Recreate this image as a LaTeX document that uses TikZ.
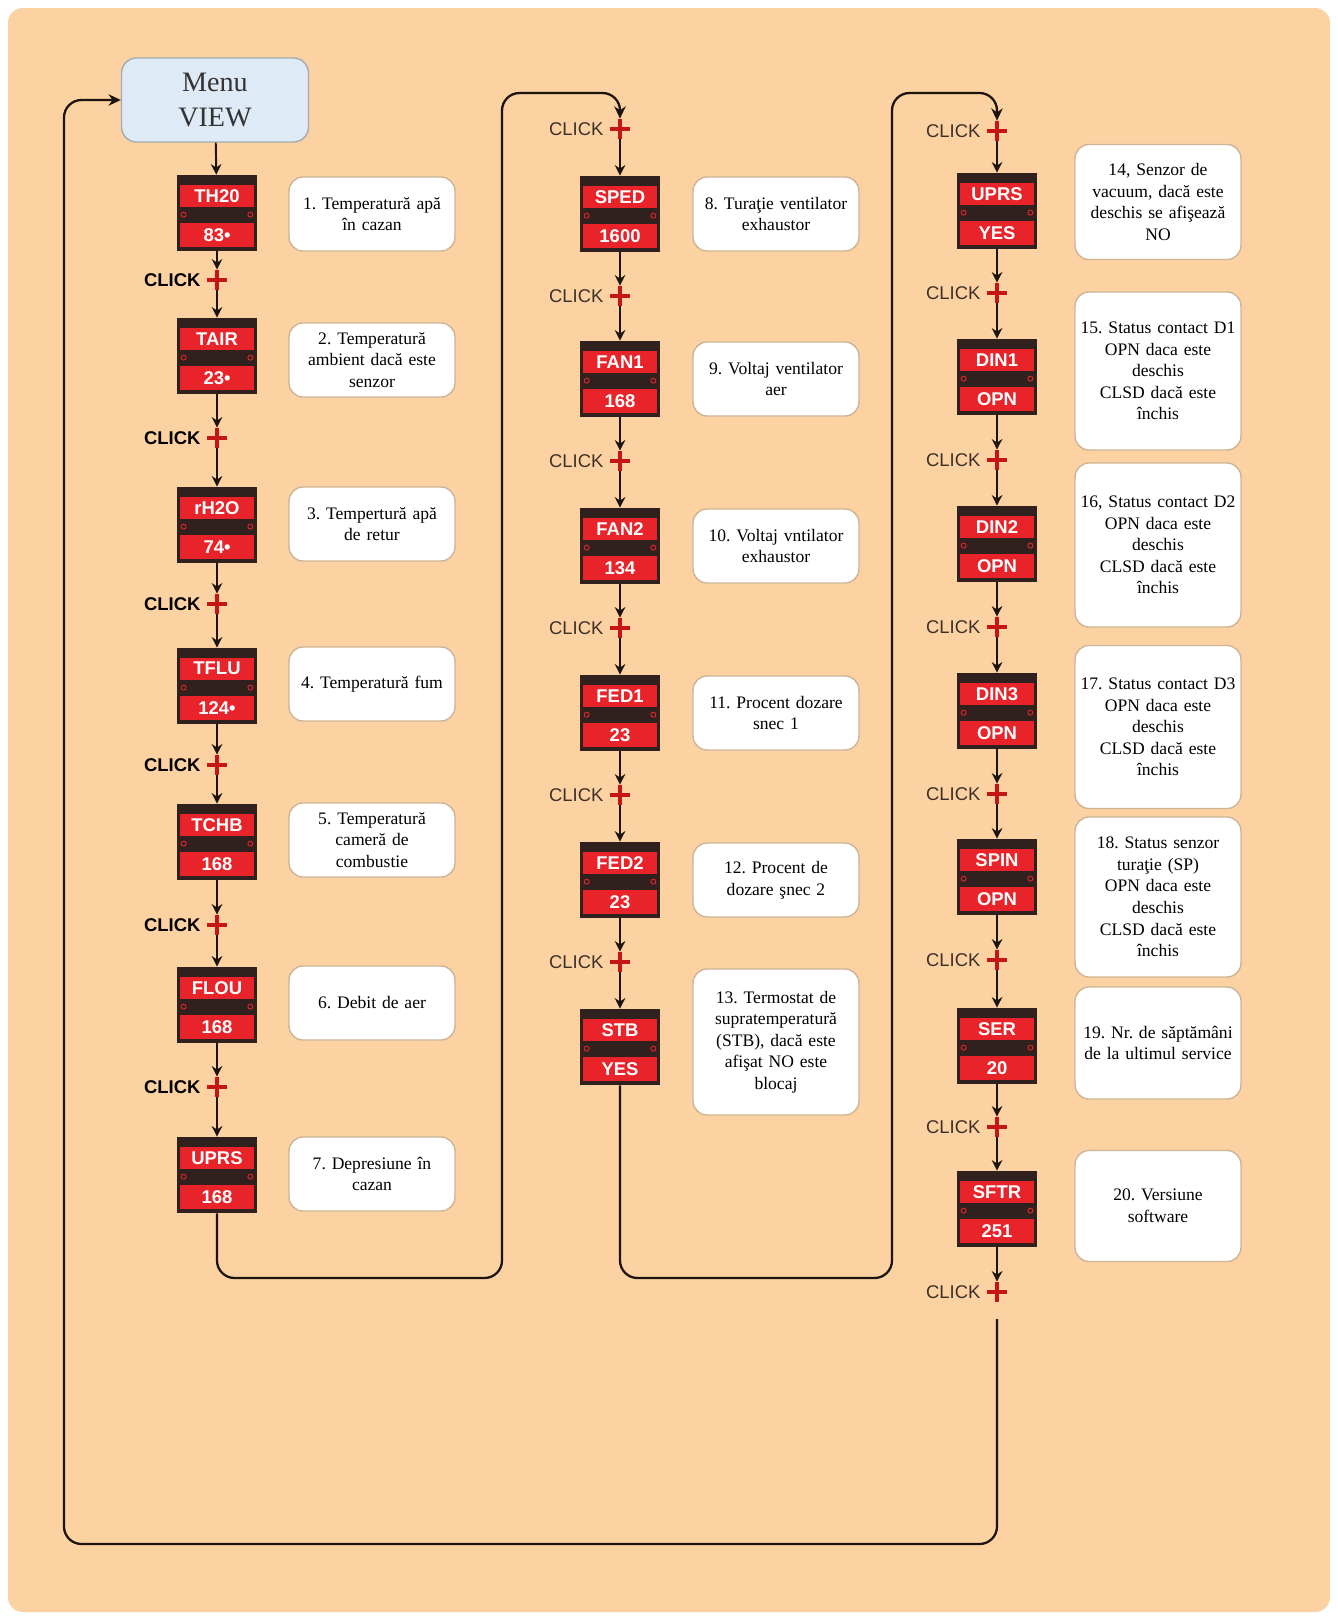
\documentclass[tikz,border=0pt]{standalone}
\usepackage{fontspec}
\setmainfont{Liberation Serif}
\setsansfont{Liberation Sans}
\usetikzlibrary{arrows.meta}
\frenchspacing

\definecolor{peach}{RGB}{252,210,162}
\definecolor{menublue}{RGB}{222,234,246}
\definecolor{menuedge}{RGB}{165,170,178}
\definecolor{boxedge}{RGB}{205,180,150}
\definecolor{dispdark}{RGB}{48,32,30}
\definecolor{dispred}{RGB}{232,35,42}
\definecolor{plusred}{RGB}{196,22,22}
\definecolor{linedark}{RGB}{30,20,15}
\definecolor{clicktxt}{RGB}{60,48,40}

% display: name, x, y, upper text, lower text
\newcommand\disp[5]{
	\node[disp] (#1) at (#2,#3) {};
	\fill[dispred] ([shift={(3,10)}]#1.north west) rectangle ([shift={(-3,32)}]#1.north east);
	\fill[dispred] ([shift={(3,-28)}]#1.south west) rectangle ([shift={(-3,-4)}]#1.south east);
	\draw[dispred, line width=0.5pt] ([shift={(7,40)}]#1.north west) circle (2.5);
	\draw[dispred, line width=0.5pt] ([shift={(-7,40)}]#1.north east) circle (2.5);
	\node[dlab] (#1-t) at ([shift={(0,21)}]#1.north) {#4};
	\node[dlab] (#1-v) at ([shift={(0,-16)}]#1.south) {#5};
}

\begin{document}
\begin{tikzpicture}[x=0.02cm, y=-0.02cm,
		disp/.style={fill=dispdark, minimum width=1.6cm, minimum height=1.52cm, inner sep=0pt},
		dlab/.style={text=white, inner sep=0pt, font=\sffamily\bfseries\fontsize{10.5}{10.5}\selectfont},
		menu/.style={draw=menuedge, fill=menublue, line width=0.8pt, rounded corners=0.3cm, minimum width=3.74cm, minimum height=1.68cm, align=center, text=black!80, font=\fontsize{16}{20.4}\selectfont},
		desc/.style={draw=boxedge, fill=white, line width=0.8pt, rounded corners=0.28cm, text width=3.2cm, inner xsep=0.06cm, align=center, font=\fontsize{10}{12.3}\selectfont},
		plus/.style={minimum size=0.4cm, inner sep=0pt},
		clk/.style={text=clicktxt, font=\sffamily\fontsize{10.5}{10.5}\selectfont},
		arr/.style={-{Stealth[length=6pt, width=6pt]}, line width=1.1pt, draw=linedark},
		conn/.style={-{Stealth[length=7pt, width=6.5pt]}, line width=1.3pt, draw=linedark, rounded corners=0.35cm}]
	\useasboundingbox (0,0) rectangle (1338,1616);
	% background
	\fill[white] (0,0) rectangle (1338,1616);
	\fill[peach, rounded corners=0.3cm] (8,8) rectangle (1330,1612);

	% column x positions
	\def\xa {217};
	\def\xb {620};
	\def\xc {997};
	% displays: upper text / lower text / y
	\def\colA {TH20/83•/213, TAIR/23•/356, rH2O/74•/525, TFLU/124•/686, TCHB/168/842, FLOU/168/1005, UPRS/168/1175};
	\def\colB {SPED/1600/214, FAN1/168/379, FAN2/134/546, FED1/23/713, FED2/23/880, STB/YES/1047};
	\def\colC {UPRS/YES/211, DIN1/OPN/377, DIN2/OPN/544, DIN3/OPN/711, SPIN/OPN/877, SER/20/1046, SFTR/251/1209};
	% click y positions
	\def\clkA {280, 438, 604, 765, 925, 1087};
	\def\clkB {129, 296, 461, 628, 795, 962};
	\def\clkC {131, 293, 460, 627, 794, 960, 1127, 1292};

	\node[menu] (menu) at (215,100) {Menu\\VIEW};

	% draw displays
	\foreach \lbl/\val/\yy [count=\index] in \colA
		{\disp{a\index}{\xa}{\yy}{\lbl}{\val}}
	\foreach \lbl/\val/\yy [count=\index] in \colB
		{\disp{b\index}{\xb}{\yy}{\lbl}{\val}}
	\foreach \lbl/\val/\yy [count=\index] in \colC
		{\disp{c\index}{\xc}{\yy}{\lbl}{\val}}

	% draw clicks
	\foreach \yy [count=\index] in \clkA
	{
		\node[plus, label={[clk, font=\sffamily\bfseries\fontsize{10.5}{10.5}\selectfont, text=black]left:CLICK}] (ka\index) at (\xa,\yy) {};
		\draw[plusred, line width=2.3pt] (ka\index.north) -- (ka\index.south) (ka\index.west) -- (ka\index.east);
	}
	\foreach \yy [count=\index from 0] in \clkB
	{
		\node[plus, label={[clk]left:CLICK}] (kb\index) at (\xb,\yy) {};
		\draw[plusred, line width=2.3pt] (kb\index.north) -- (kb\index.south) (kb\index.west) -- (kb\index.east);
	}
	\foreach \yy [count=\index from 0] in \clkC
	{
		\node[plus, label={[clk]left:CLICK}] (kc\index) at (\xc,\yy) {};
		\draw[plusred, line width=2.3pt] (kc\index.north) -- (kc\index.south) (kc\index.west) -- (kc\index.east);
	}

	% descriptions: y / height / text
	\foreach \yy/\hh/\txt [count=\index] in {
			214/74/{1. Temperatură apă\\în cazan},
			360/74/{2. Temperatură\\ambient dacă este\\senzor},
			524/74/{3. Tempertură apă\\de retur},
			684/74/{4. Temperatură fum},
			840/74/{5. Temperatură\\cameră de\\combustie},
			1003/74/{6. Debit de aer},
			1174/74/{7. Depresiune în\\cazan}}
		\node[desc, minimum height=\hh*0.02cm] (ta\index) at (372,\yy) {\txt};
	\foreach \yy/\hh/\txt [count=\index] in {
			214/74/{8. Turaţie ventilator\\exhaustor},
			379/74/{9. Voltaj ventilator\\aer},
			546/74/{10. Voltaj vntilator\\exhaustor},
			713/74/{11. Procent dozare\\snec 1},
			880/74/{12. Procent de\\dozare şnec 2},
			1042/146/{13. Termostat de\\supratemperatură\\(STB), dacă este\\afişat NO este\\blocaj}}
		\node[desc, minimum height=\hh*0.02cm] (tb\index) at (776,\yy) {\txt};
	\foreach \yy/\hh/\txt [count=\index] in {
			202/115/{14, Senzor de\\vacuum, dacă este\\deschis se afişează\\NO},
			371/158/{15. Status contact D1\\OPN daca este\\deschis\\CLSD dacă este\\închis},
			545/164/{16, Status contact D2\\OPN daca este\\deschis\\CLSD dacă este\\închis},
			727/163/{17. Status contact D3\\OPN daca este\\deschis\\CLSD dacă este\\închis},
			897/160/{18. Status senzor\\turaţie (SP)\\OPN daca este\\deschis\\CLSD dacă este\\închis},
			1043/112/{19. Nr. de săptămâni\\de la ultimul service\\[12pt]},
			1206/111/{20. Versiune\\software}}
		\node[desc, minimum height=\hh*0.02cm] (tc\index) at (1158,\yy) {\txt};

	% edges
	\draw[arr] (menu) -- (a1);
	\foreach \i [count=\j from 2] in {1,...,6}
	{
		\draw[arr] (a\i) -- (ka\i);
		\draw[arr] (ka\i) -- (a\j);
	}
	\foreach \i [count=\j from 0] in {1,...,6}
		\draw[arr] (kb\j) -- (b\i);
	\foreach \i in {1,...,5}
		\draw[arr] (b\i) -- (kb\i);
	\foreach \i [count=\j from 0] in {1,...,7}
	{
		\draw[arr] (kc\j) -- (c\i);
		\draw[arr] (c\i) -- (kc\i);
	}
	% column links
	\draw[conn] (a7.south) |- (502,1278) -- (502,93) -| (kb0.north);
	\draw[conn] (b6.south) |- (892,1278) -- (892,93) -| (kc0.north);
	\coordinate (back) at (\xc,1319);
	\draw[conn] (back) |- (64,1544) |- (menu.west);
\end{tikzpicture}
\end{document}
